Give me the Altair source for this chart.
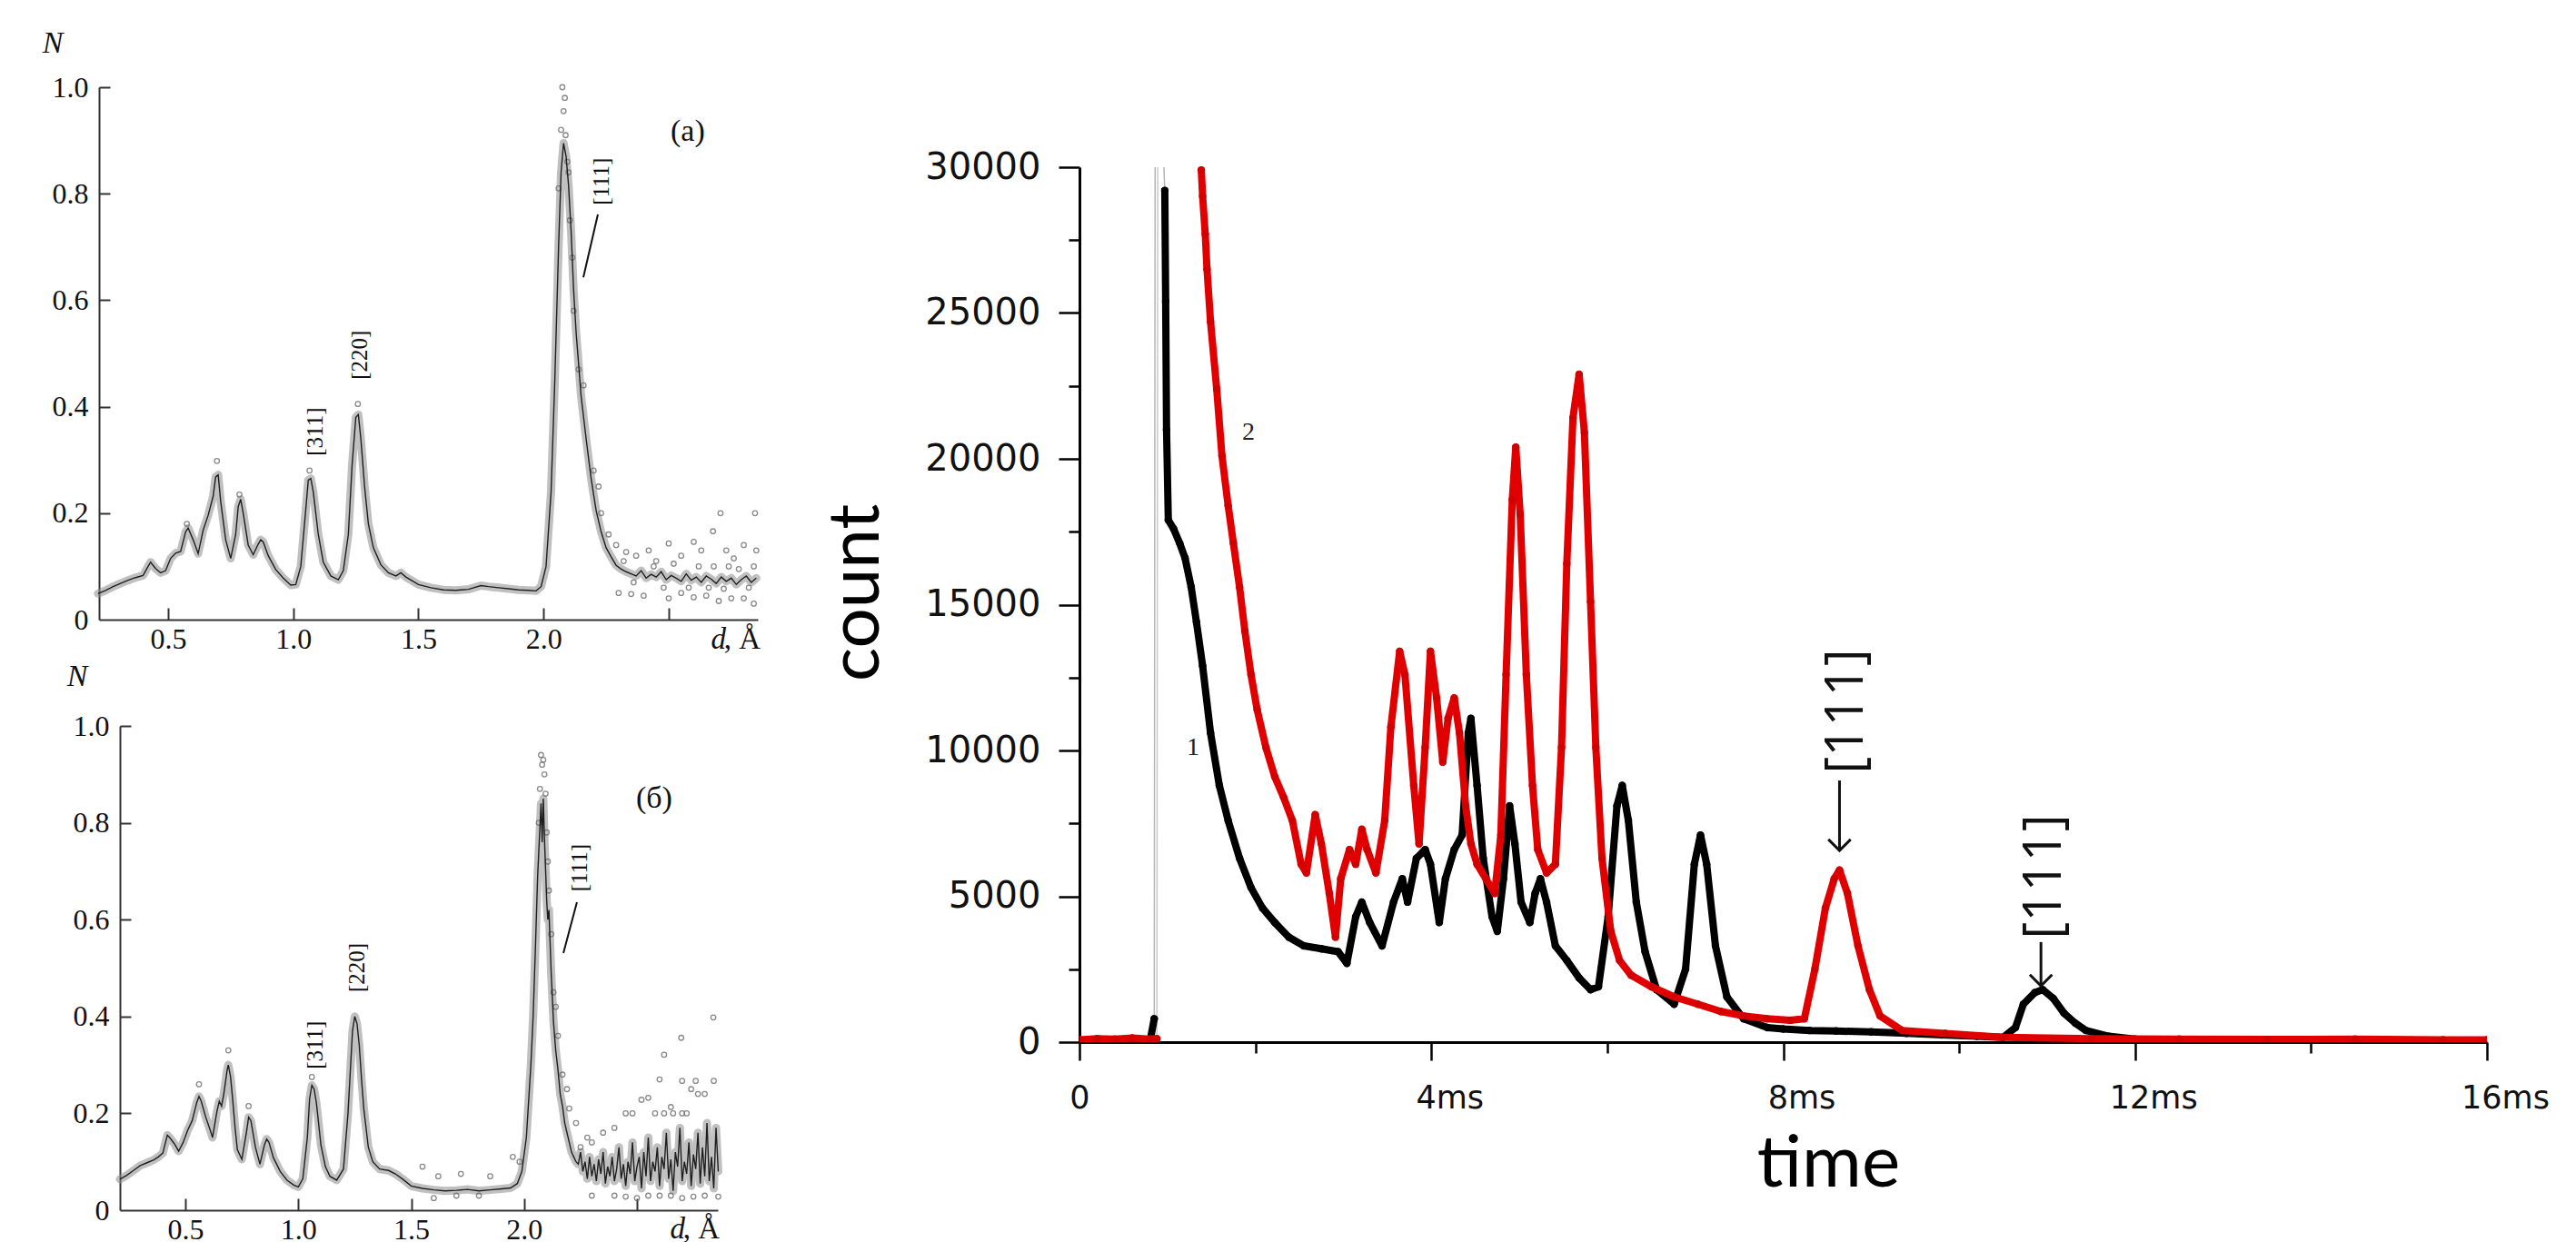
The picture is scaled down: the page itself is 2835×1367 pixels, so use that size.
import altair as alt
import pandas as pd

SERIF = "Liberation Serif"
SANS = "DejaVu Sans"
TITLE_FONT = "Lato"

# ---------------- panel (a): N vs d ----------------
A_LINE = [(0.22,0.049),(0.25,0.055),(0.28,0.062),(0.31,0.068),(0.34,0.074),(0.37,0.079),(0.40,0.083),
          (0.42,0.100),(0.43,0.108),(0.45,0.096),(0.47,0.088),(0.49,0.092),(0.51,0.115),(0.53,0.125),
          (0.55,0.128),(0.57,0.165),(0.58,0.172),(0.60,0.150),(0.62,0.124),(0.64,0.168),(0.66,0.196),
          (0.68,0.232),(0.69,0.268),(0.70,0.272),(0.71,0.222),(0.73,0.150),(0.75,0.115),(0.77,0.160),
          (0.78,0.212),(0.79,0.226),(0.80,0.200),(0.82,0.140),(0.84,0.122),(0.86,0.142),(0.87,0.150),
          (0.88,0.146),(0.90,0.120),(0.93,0.094),(0.96,0.078),(0.99,0.065),(1.01,0.066),(1.03,0.100),
          (1.045,0.180),(1.06,0.262),(1.07,0.265),(1.08,0.240),(1.10,0.160),(1.12,0.108),(1.15,0.082),
          (1.18,0.075),(1.20,0.092),(1.22,0.160),(1.235,0.290),(1.25,0.380),(1.26,0.385),(1.27,0.340),
          (1.285,0.250),(1.30,0.180),(1.32,0.135),(1.35,0.103),(1.38,0.088),(1.41,0.082),(1.43,0.088),
          (1.45,0.080),(1.50,0.066),(1.55,0.060),(1.60,0.056),(1.65,0.055),(1.70,0.057),(1.75,0.064),
          (1.78,0.062),(1.82,0.060),(1.86,0.058),(1.90,0.056),(1.94,0.055),(1.97,0.054),(1.99,0.062),
          (2.01,0.100),(2.03,0.240),(2.045,0.450),(2.06,0.700),(2.07,0.840),(2.08,0.895),(2.09,0.870),
          (2.10,0.815),(2.11,0.730),(2.12,0.620),(2.13,0.540),(2.15,0.420),(2.17,0.340),(2.19,0.265),
          (2.21,0.205),(2.23,0.165),(2.25,0.135),(2.27,0.118),(2.29,0.102),(2.31,0.095),(2.33,0.090),
          (2.35,0.086),(2.37,0.082),(2.39,0.092),(2.41,0.078),(2.43,0.085),(2.45,0.080),(2.47,0.090),
          (2.49,0.075),(2.51,0.083),(2.53,0.078),(2.55,0.072),(2.57,0.086),(2.59,0.074),(2.61,0.080),
          (2.63,0.070),(2.65,0.082),(2.67,0.076),(2.69,0.068),(2.71,0.080),(2.73,0.072),(2.75,0.078),
          (2.77,0.066),(2.79,0.075),(2.81,0.082),(2.83,0.070),(2.85,0.078)]
A_POINTS = [(0.575,0.18),(0.695,0.298),(0.785,0.235),(1.065,0.28),(1.258,0.405),(2.075,1.0),(2.085,0.98),
            (2.08,0.955),(2.07,0.92),(2.088,0.91),(2.095,0.86),(2.1,0.84),(2.06,0.81),(2.105,0.75),
            (2.115,0.68),(2.12,0.58),(2.14,0.47),(2.16,0.44),(2.2,0.28),(2.22,0.25),(2.23,0.2),
            (2.26,0.16),(2.29,0.14),(2.33,0.127),(2.37,0.12),(2.42,0.13),(2.45,0.11),(2.5,0.143),
            (2.55,0.12),(2.6,0.146),(2.63,0.13),(2.677,0.166),(2.707,0.2),(2.73,0.13),(2.76,0.115),
            (2.8,0.14),(2.845,0.2),(2.85,0.13),(2.3,0.05),(2.35,0.048),(2.4,0.045),(2.5,0.04),
            (2.55,0.05),(2.6,0.042),(2.65,0.045),(2.7,0.035),(2.75,0.04),(2.8,0.04),(2.84,0.03),
            (2.32,0.11),(2.36,0.07),(2.44,0.1),(2.48,0.06),(2.52,0.105),(2.58,0.06),(2.62,0.1),
            (2.66,0.06),(2.68,0.1),(2.72,0.058),(2.74,0.1),(2.78,0.095),(2.82,0.06),(2.84,0.1)]
A_MILLER = [("[311]",1.088,0.353),("[220]",1.266,0.497),("[111]",2.231,0.823)]
A_LEADER = [(2.217,0.761,2.159,0.643)]

# ---------------- panel (б): N vs d ----------------
B_LINE = [(0.21,0.064),(0.24,0.072),(0.27,0.082),(0.30,0.092),(0.33,0.098),(0.36,0.104),(0.38,0.110),
          (0.40,0.118),(0.42,0.155),(0.43,0.150),(0.45,0.138),(0.47,0.122),(0.49,0.140),(0.51,0.165),
          (0.53,0.185),(0.55,0.222),(0.56,0.235),(0.57,0.225),(0.59,0.192),(0.61,0.165),(0.62,0.150),
          (0.64,0.205),(0.65,0.225),(0.66,0.215),(0.67,0.240),(0.685,0.290),(0.69,0.300),(0.70,0.275),
          (0.71,0.225),(0.72,0.170),(0.73,0.125),(0.75,0.105),(0.77,0.160),(0.78,0.192),(0.79,0.185),
          (0.81,0.130),(0.83,0.095),(0.85,0.135),(0.86,0.147),(0.87,0.140),(0.89,0.108),(0.92,0.080),
          (0.95,0.062),(0.98,0.052),(1.00,0.048),(1.02,0.065),(1.04,0.150),(1.05,0.230),(1.06,0.258),
          (1.07,0.250),(1.08,0.222),(1.10,0.135),(1.12,0.090),(1.14,0.070),(1.17,0.062),(1.20,0.085),
          (1.22,0.200),(1.24,0.370),(1.25,0.400),(1.26,0.385),(1.27,0.340),(1.28,0.270),(1.29,0.210),
          (1.31,0.130),(1.33,0.100),(1.36,0.085),(1.40,0.082),(1.43,0.075),(1.46,0.065),(1.50,0.050),
          (1.55,0.045),(1.60,0.042),(1.65,0.040),(1.70,0.041),(1.75,0.043),(1.80,0.040),(1.85,0.042),
          (1.90,0.044),(1.94,0.046),(1.97,0.055),(1.99,0.080),(2.01,0.150),(2.03,0.300),(2.04,0.400),
          (2.05,0.540),(2.06,0.690),(2.07,0.790),(2.075,0.840),(2.08,0.760),(2.085,0.850),(2.09,0.770),
          (2.10,0.640),(2.105,0.600),(2.11,0.620),(2.12,0.490),(2.13,0.390),(2.14,0.330),(2.15,0.290),
          (2.16,0.240),(2.17,0.215),(2.18,0.180),(2.19,0.160),(2.20,0.140),(2.21,0.120),(2.22,0.110),
          (2.23,0.100),(2.24,0.095),(2.25,0.120),(2.26,0.080),(2.27,0.100),(2.28,0.065),(2.29,0.110),
          (2.30,0.070),(2.31,0.095),(2.32,0.060),(2.33,0.105),(2.34,0.075),(2.35,0.120),(2.36,0.055),
          (2.37,0.090),(2.38,0.070),(2.39,0.110),(2.40,0.060),(2.41,0.085),(2.42,0.130),(2.43,0.065),
          (2.44,0.095),(2.45,0.050),(2.46,0.100),(2.47,0.075),(2.48,0.140),(2.49,0.060),(2.50,0.090),
          (2.51,0.110),(2.52,0.045),(2.53,0.120),(2.54,0.070),(2.55,0.150),(2.56,0.060),(2.57,0.100),
          (2.58,0.080),(2.59,0.130),(2.60,0.050),(2.61,0.110),(2.62,0.085),(2.63,0.160),(2.64,0.065),
          (2.65,0.105),(2.66,0.040),(2.67,0.120),(2.68,0.090),(2.69,0.170),(2.70,0.060),(2.71,0.100),
          (2.72,0.075),(2.73,0.140),(2.74,0.050),(2.75,0.115),(2.76,0.085),(2.77,0.160),(2.78,0.055),
          (2.79,0.130),(2.80,0.070),(2.81,0.180),(2.82,0.060),(2.83,0.110),(2.84,0.045),(2.85,0.170),
          (2.86,0.080)]
B_POINTS = [(0.56,0.26),(0.69,0.33),(0.78,0.215),(1.06,0.275),(2.075,0.94),(2.08,0.92),(2.085,0.93),
            (2.09,0.90),(2.07,0.87),(2.095,0.86),(2.065,0.80),(2.1,0.78),(2.105,0.72),(2.11,0.66),
            (2.12,0.57),(2.13,0.45),(2.14,0.42),(2.15,0.36),(2.17,0.28),(2.19,0.25),(2.2,0.21),
            (2.23,0.18),(2.838,0.398),(2.696,0.356),(2.62,0.321),(2.6,0.27),(2.70,0.267),(2.76,0.267),
            (2.84,0.267),(2.74,0.25),(2.77,0.24),(2.52,0.228),(2.55,0.232),(2.65,0.213),(2.45,0.20),
            (2.48,0.20),(2.58,0.20),(2.62,0.20),(2.66,0.20),(2.7,0.20),(2.72,0.20),(2.8,0.24),
            (2.4,0.17),(2.35,0.16),(2.3,0.14),(2.28,0.15),(2.25,0.13),(2.3,0.03),(2.4,0.03),
            (2.5,0.025),(2.6,0.03),(2.7,0.025),(2.8,0.03),(2.86,0.028),(2.45,0.028),(2.55,0.03),
            (2.65,0.03),(2.75,0.028),(1.55,0.09),(1.62,0.07),(1.72,0.075),(1.85,0.07),(1.95,0.11),
            (1.98,0.10),(1.6,0.025),(1.7,0.03),(1.8,0.03)]
B_MILLER = [("[311]",1.075,0.341),("[220]",1.261,0.501),("[111]",2.246,0.707)]
B_LEADER = [(2.234,0.636,2.174,0.531)]

D_TICKS = [0.5, 1.0, 1.5, 2.0, 2.5]
N_TICKS = [0, 0.2, 0.4, 0.6, 0.8, 1.0]

# ---------------- right panel: count vs time (ms) ----------------
BLACK = [(0.0,0),(0.2,0),(0.4,0),(0.6,0),(0.8,0),(0.85,800),(0.86,45000),(0.96,45000),(0.97,29200),
         (0.98,25400),(0.99,21000),(1.01,17900),(1.07,17600),(1.14,17100),(1.20,16600),(1.27,15600),
         (1.33,14400),(1.40,12900),(1.49,10600),(1.59,8800),(1.69,7600),(1.82,6300),(1.95,5300),
         (2.08,4600),(2.22,4100),(2.38,3600),(2.55,3300),(2.75,3200),(2.94,3100),(3.04,2700),(3.14,4300),
         (3.21,4800),(3.30,4100),(3.44,3300),(3.57,4800),(3.67,5600),(3.73,4800),(3.83,6300),(3.93,6600),
         (3.99,6100),(4.09,4100),(4.16,5600),(4.26,6600),(4.35,7100),(4.42,10600),(4.45,11100),
         (4.52,8800),(4.59,6300),(4.69,4300),(4.75,3800),(4.82,5600),(4.89,8100),(4.95,6800),(5.02,4800),
         (5.12,4100),(5.18,5100),(5.24,5600),(5.31,4800),(5.41,3300),(5.54,2800),(5.68,2200),(5.81,1800),
         (5.90,1900),(6.01,4300),(6.11,8100),(6.17,8800),(6.24,7600),(6.33,4800),(6.43,3100),(6.56,1800),
         (6.76,1300),(6.89,2500),(6.99,6100),(7.06,7100),(7.13,6100),(7.23,3300),(7.36,1550),(7.55,800),
         (7.82,500),(8.0,450),(8.3,400),(8.6,380),(9.0,350),(9.4,300),(9.8,250),(10.2,200),(10.5,160),
         (10.64,500),(10.73,1300),(10.86,1700),(10.95,1800),(11.07,1500),(11.19,1000),(11.32,650),
         (11.44,400),(11.7,200),(12.0,100),(13.0,60),(14.0,50),(15.0,40),(16.0,40)]
RED = [(0.0,80),(0.2,120),(0.4,100),(0.6,140),(0.8,100),(0.88,120),(0.89,45000),(1.38,45000),
       (1.385,29900),(1.40,29000),(1.43,27700),(1.45,26500),(1.49,24700),(1.56,22400),(1.62,20100),
       (1.69,18400),(1.75,17100),(1.82,15600),(1.88,14100),(1.95,12600),(2.02,11400),(2.12,10100),
       (2.22,9100),(2.32,8400),(2.42,7600),(2.52,6100),(2.58,5800),(2.68,7800),(2.75,6800),(2.84,5100),
       (2.91,3600),(2.97,5600),(3.07,6600),(3.14,6100),(3.21,7300),(3.27,6600),(3.37,5800),(3.47,7600),
       (3.54,10800),(3.64,13400),(3.70,12600),(3.80,8800),(3.86,6800),(3.93,10100),(3.99,13400),
       (4.06,11800),(4.13,9600),(4.19,11100),(4.26,11800),(4.32,10600),(4.39,8100),(4.45,6800),
       (4.52,6100),(4.62,5600),(4.72,5100),(4.79,7100),(4.85,12600),(4.92,18600),(4.96,20400),
       (5.01,18100),(5.08,12600),(5.15,8800),(5.21,6600),(5.31,5800),(5.41,6100),(5.48,10100),
       (5.54,16400),(5.61,21400),(5.68,22900),(5.74,20900),(5.81,15100),(5.87,10100),(5.94,6300),
       (6.04,3800),(6.14,2800),(6.27,2300),(6.50,1900),(6.76,1550),(7.03,1300),(7.29,1050),(7.55,900),
       (7.82,800),(8.08,750),(8.24,800),(8.36,2500),(8.48,4600),(8.58,5600),(8.64,5900),(8.73,5100),
       (8.85,3300),(8.98,1800),(9.10,900),(9.35,400),(9.84,300),(10.5,160),(11.5,120),(12.5,100),
       (13.5,90),(14.5,100),(15.5,80),(16.0,80)]
CURVE_LABELS = [("1",1.29,10100),("2",1.92,20900)]
PEAK_LABELS = [("[111]",8.73,11340),("[111]",10.98,5670)]
ARROWS = [(8.64,8970,6570),(10.93,3430,1930)]
T_TICKS = [0,2,4,6,8,10,12,14,16]
C_TICKS = [0,2500,5000,7500,10000,12500,15000,17500,20000,22500,25000,27500,30000]
C_MAX = 30000


def left_panel(line, pts, miller, leader, tag, tag_pos, n_pos, d_pos, comma_pos,
               dom, width, height, xshift):
    line_df = pd.DataFrame(line, columns=["d", "n"])
    pts_df = pd.DataFrame(pts, columns=["d", "n"])
    mil_df = pd.DataFrame(miller, columns=["txt", "d", "n"])
    lead_df = pd.DataFrame(leader, columns=["d", "n", "d2", "n2"])
    xs = alt.Scale(domain=dom, range=[xshift, width], nice=False, zero=False)
    ys = alt.Scale(domain=[0, 1], nice=False, zero=False)
    x_lab = alt.Axis(orient="bottom", values=D_TICKS, ticks=False, tickSize=0,
                     labelExpr="datum.value == 2.5 ? '' : format(datum.value, '.1f')",
                     labelPadding=6, labelFont=SERIF, labelFontSize=32, labelColor="#111",
                     labelFlush=False, domainColor="#333", domainWidth=2, grid=False, title=None)
    y_lab = alt.Axis(orient="left", values=N_TICKS, ticks=False, tickSize=0, offset=-xshift,
                     labelExpr="datum.value == 0 ? '0' : format(datum.value, '.1f')",
                     labelPadding=12, labelFont=SERIF, labelFontSize=32, labelColor="#111",
                     labelFlush=False, domainColor="#333", domainWidth=2, grid=False, title=None)
    x_tick = alt.Axis(orient="top", offset=-height, values=D_TICKS, labels=False, domain=False,
                      ticks=True, tickSize=13, tickWidth=2, tickColor="#333", grid=False, title=None)
    y_tick = alt.Axis(orient="right", offset=-(width - xshift), values=N_TICKS[1:], labels=False,
                      domain=False, ticks=True, tickSize=12, tickWidth=2, tickColor="#333",
                      grid=False, title=None)

    def xy(xf="d", yf="n"):
        return dict(x=alt.X(f"{xf}:Q", scale=xs, axis=None), y=alt.Y(f"{yf}:Q", scale=ys, axis=None))

    band = alt.Chart(line_df).mark_line(color="#8c8c8c", strokeWidth=9, opacity=0.55,
                                        strokeCap="round", strokeJoin="round").encode(
        x=alt.X("d:Q", scale=xs, axis=x_tick), y=alt.Y("n:Q", scale=ys, axis=y_tick))
    scatter = alt.Chart(pts_df).mark_point(shape="circle", filled=False, color="#6e6e6e",
                                           size=30, strokeWidth=1.3, opacity=0.8).encode(**xy())
    thin = alt.Chart(line_df).mark_line(color="#1e1e1e", strokeWidth=1.4).encode(
        x=alt.X("d:Q", scale=xs, axis=x_lab), y=alt.Y("n:Q", scale=ys, axis=y_lab))
    mil = alt.Chart(mil_df).mark_text(angle=270, font=SERIF, fontSize=25, color="#111").encode(
        text="txt:N", **xy())
    lead = alt.Chart(lead_df).mark_rule(color="#111", strokeWidth=2).encode(
        x2="d2:Q", y2="n2:Q", **xy())
    tag_df = pd.DataFrame([{"txt": tag, "d": tag_pos[0], "n": tag_pos[1]}])
    n_df = pd.DataFrame([{"txt": "N", "d": n_pos[0], "n": n_pos[1]}])
    tag_text = alt.Chart(tag_df).mark_text(font=SERIF, fontSize=34, color="#111").encode(
        text="txt:N", **xy())
    n_text = alt.Chart(n_df).mark_text(font=SERIF, fontStyle="italic", fontSize=34,
                                       color="#111").encode(text="txt:N", **xy())
    dlab = pd.DataFrame([{"txt": "d", "d": d_pos[0], "n": d_pos[1]}])
    clab = pd.DataFrame([{"txt": ", Å", "d": comma_pos[0], "n": comma_pos[1]}])
    d_text = alt.Chart(dlab).mark_text(font=SERIF, fontStyle="italic", fontSize=33, align="right",
                                       baseline="alphabetic", color="#111").encode(
        text="txt:N", **xy())
    c_text = alt.Chart(clab).mark_text(font=SERIF, fontSize=33, align="right",
                                       baseline="alphabetic", color="#111").encode(
        text="txt:N", **xy())
    return alt.layer(band, scatter, thin, mil, lead, tag_text, n_text, d_text, c_text).resolve_axis(
        x="independent", y="independent").properties(width=width, height=height)


panel_a = left_panel(A_LINE, A_POINTS, A_MILLER, A_LEADER, "(a)", (2.576, 0.916), (0.039, 1.082),
                     (2.729, -0.055), (2.867, -0.055), [0.224, 2.856], 725, 586, 0)
panel_b = left_panel(B_LINE, B_POINTS, B_MILLER, B_LEADER, "(б)", (2.576, 0.85), (0.021, 1.101),
                     (2.713, -0.058), (2.866, -0.058), [0.21, 2.858], 681, 533, 23)


# ---------------- right panel ----------------
def split(points):
    """On-scale points, with a new segment after every off-scale stretch."""
    rows, seg = [], 0
    for t, c in points:
        if c > C_MAX:
            seg += 1
            continue
        rows.append({"t": t, "c": c, "seg": seg})
    return pd.DataFrame(rows)


def connectors(points):
    """All points, off-scale ones pinned to the top, broken between two off-scale points."""
    rows, seg, prev_off = [], 0, False
    for t, c in points:
        off = c > C_MAX
        if off and prev_off:
            seg += 1
        rows.append({"t": t, "c": min(c, C_MAX), "seg": seg})
        prev_off = off
    return pd.DataFrame(rows)


blk_all = connectors(BLACK)
red_all = connectors(RED)
blk = split(BLACK)
red = split(RED)
W_R, H_R, TOP_R = 1549, 1051, 88
tx = alt.Scale(domain=[0, 16], nice=False, zero=False)
cy = alt.Scale(domain=[0, C_MAX], range=[H_R, TOP_R], nice=False, zero=False)

x_axis_r = alt.Axis(values=T_TICKS,
                    labelExpr="datum.value % 4 == 0 ? (datum.value == 0 ? '0' : datum.value + 'ms') : ''",
                    tickSize={"condition": {"test": "datum.value % 4 == 0", "value": 20}, "value": 12},
                    labelOffset={"condition": {"test": "datum.value == 0", "value": 0}, "value": 20},
                    labelPadding=24, labelFont=SANS, labelFontSize=35, labelColor="#111",
                    labelFlush=False, tickColor="#000", tickWidth=2.5, domainColor="#000",
                    domainWidth=3, grid=False, title="time", titleFont=TITLE_FONT, titleFontSize=80,
                    titleFontWeight="normal", titleColor="#000", titleX=824, titleY=134,
                    titleBaseline="middle", titleAlign="center")
y_axis_r = alt.Axis(values=C_TICKS,
                    labelExpr="datum.value % 5000 == 0 ? format(datum.value, 'd') : ''",
                    tickSize={"condition": {"test": "datum.value % 5000 == 0", "value": 23}, "value": 12},
                    labelPadding=20, labelFont=SANS, labelFontSize=40, labelColor="#111",
                    tickColor="#000", tickWidth=2.5, domainColor="#000", domainWidth=3, grid=False,
                    title="count", titleFont=TITLE_FONT, titleFontSize=78, titleFontWeight="normal",
                    titleColor="#000", titleX=-245, titleY=556, titleAngle=270,
                    titleBaseline="middle", titleAlign="center")

thin_b = alt.Chart(blk_all).mark_line(color="#b4b4b4", strokeWidth=1.5, clip=True).encode(
    x=alt.X("t:Q", scale=tx, axis=x_axis_r), y=alt.Y("c:Q", scale=cy, axis=y_axis_r),
    detail="seg:N")
thin_r = alt.Chart(red_all).mark_line(color="#c8c8c8", strokeWidth=1.5, clip=True).encode(
    x=alt.X("t:Q", scale=tx), y=alt.Y("c:Q", scale=cy), detail="seg:N")
blk_line = alt.Chart(blk).mark_line(color="#000", strokeWidth=8, strokeJoin="round",
                                    strokeCap="round", clip=True).encode(
    x=alt.X("t:Q", scale=tx), y=alt.Y("c:Q", scale=cy), detail="seg:N")
blk_pts = alt.Chart(blk).mark_circle(color="#000", size=70, opacity=1, clip=True).encode(
    x=alt.X("t:Q", scale=tx), y=alt.Y("c:Q", scale=cy))
red_line = alt.Chart(red).mark_line(color="#e00000", strokeWidth=8, strokeJoin="round",
                                    strokeCap="round", clip=True).encode(
    x=alt.X("t:Q", scale=tx), y=alt.Y("c:Q", scale=cy), detail="seg:N")
red_pts = alt.Chart(red).mark_circle(color="#d00000", size=70, opacity=1, clip=True).encode(
    x=alt.X("t:Q", scale=tx), y=alt.Y("c:Q", scale=cy))

cl_df = pd.DataFrame(CURVE_LABELS, columns=["txt", "t", "c"])
curve_lab = alt.Chart(cl_df).mark_text(font=SERIF, fontSize=28, color="#222").encode(
    x=alt.X("t:Q", scale=tx), y=alt.Y("c:Q", scale=cy), text="txt:N")
pk_df = pd.DataFrame(PEAK_LABELS, columns=["txt", "t", "c"])
peak_lab = alt.Chart(pk_df).mark_text(font="Open Sans", fontSize=58, angle=270, color="#111").encode(
    x=alt.X("t:Q", scale=tx), y=alt.Y("c:Q", scale=cy), text="txt:N")
ar_df = pd.DataFrame(ARROWS, columns=["t", "c1", "c2"])
ar_shaft = alt.Chart(ar_df).mark_rule(color="#111", strokeWidth=3).encode(
    x=alt.X("t:Q", scale=tx), y=alt.Y("c1:Q", scale=cy), y2="c2:Q")
ar_head = alt.Chart(ar_df).mark_point(shape="M-1,-1L0,0L1,-1", filled=False, color="#111",
                                      size=600, strokeWidth=3, opacity=1).encode(
    x=alt.X("t:Q", scale=tx), y=alt.Y("c2:Q", scale=cy))

panel_r = alt.layer(thin_b, thin_r, blk_line, blk_pts, red_line, red_pts, curve_lab, peak_lab,
                    ar_shaft, ar_head).properties(width=W_R, height=H_R)

left_col = alt.vconcat(panel_a, panel_b, spacing=117, bounds="flush")
# the nested column counts as zero-width in a flush layout, so the gap holds its 725px width too
chart = alt.hconcat(left_col, panel_r, spacing=725 + 354, bounds="flush").properties(
    padding={"left": 38, "top": 22, "right": 5, "bottom": 0}
).configure_view(stroke=None).configure_axis(grid=False)

chart.save("out.html", embed_options={"renderer": "svg", "actions": False})
